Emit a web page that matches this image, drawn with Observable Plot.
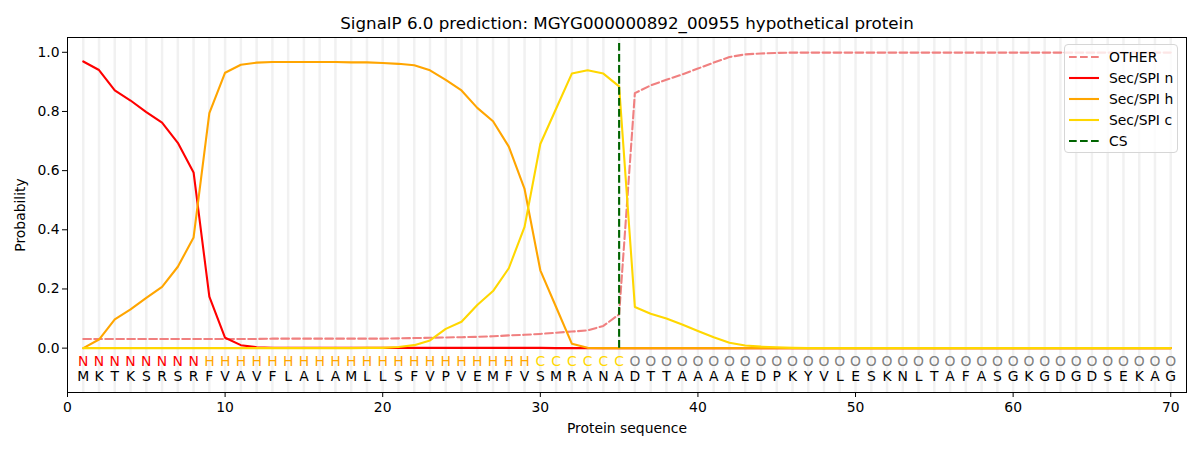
<!DOCTYPE html>
<html><head><meta charset="utf-8">
<script src="https://cdn.jsdelivr.net/npm/d3@7"></script>
<script src="https://cdn.jsdelivr.net/npm/@observablehq/plot@0.6"></script>
<style>
body{margin:0;background:#fff;font-family:"DejaVu Sans",sans-serif;}
#wrap{position:relative;width:1200px;height:450px;}
#legend{position:absolute;left:1064px;top:44px;width:114px;height:109px;box-sizing:border-box;border:1px solid #d6d6d6;border-radius:4px;background:rgba(255,255,255,0.8);font-size:13.9px;color:#000;}
#legend .row{position:absolute;left:4px;height:20px;display:flex;align-items:center;}
#legend .row span{margin-left:10px;white-space:nowrap;}
</style></head><body>
<div id="wrap"><div id="chart"></div><div id="legend"></div></div>
<script>
const title = "SignalP 6.0 prediction: MGYG000000892_00955 hypothetical protein";
const sequence = "MKTKSRSRFVAVFLALAMLLSFVPVEMFVSMRANADTTAAAAEDPKYVLESKNLTAFASGKGDGDSEKAG".split("");
const states = "NNNNNNNNHHHHHHHHHHHHHHHHHHHHHCCCCCCOOOOOOOOOOOOOOOOOOOOOOOOOOOOOOOOOOO".split("");
const positions = d3.range(1, sequence.length + 1);

const otherProb = [0.031,0.031,0.031,0.031,0.031,0.031,0.031,0.031,0.031,0.031,
  0.031,0.031,0.032,0.032,0.032,0.032,0.032,0.032,0.032,0.032,
  0.033,0.034,0.035,0.036,0.037,0.038,0.040,0.043,0.045,0.048,
  0.052,0.056,0.060,0.075,0.114,0.862,0.888,0.907,0.925,0.945,
  0.965,0.984,0.993,0.996,0.998,0.999,0.999,0.999,0.999,0.999,
  0.999,0.999,0.999,0.999,0.999,0.999,0.999,0.999,0.999,0.999,
  0.999,0.999,0.999,0.999,0.999,0.999,0.999,0.999,0.999,0.999];
const nProb = [0.969,0.940,0.871,0.837,0.798,0.762,0.694,0.594,0.174,0.035,
  0.010,0.003,0.001,0.001,0.001,0.001,0.001,0.001,0.001,0.001,
  0.001,0.001,0.001,0.001,0.001,0.001,0.001,0.001,0.001,0.001,
  0,0,0,0,0,0,0,0,0,0,
  0,0,0,0,0,0,0,0,0,0,
  0,0,0,0,0,0,0,0,0,0,
  0,0,0,0,0,0,0,0,0,0];
const hProb = [0.000,0.029,0.097,0.131,0.170,0.207,0.275,0.374,0.794,0.931,
  0.958,0.965,0.967,0.967,0.967,0.967,0.967,0.966,0.966,0.964,
  0.961,0.956,0.939,0.907,0.871,0.812,0.767,0.681,0.538,0.263,
  0.139,0.015,0.001,0,0,0,0,0,0,0,
  0,0,0,0,0,0,0,0,0,0,
  0,0,0,0,0,0,0,0,0,0,
  0,0,0,0,0,0,0,0,0,0];
const cProb = [0,0,0,0,0,0,0,0,0,0,
  0,0,0,0,0,0,0,0,0.001,0.001,
  0.004,0.010,0.026,0.065,0.089,0.146,0.193,0.270,0.410,0.690,
  0.809,0.928,0.939,0.928,0.885,0.139,0.116,0.100,0.080,0.058,
  0.037,0.018,0.009,0.005,0.003,0.001,0,0,0,0,
  0,0,0,0,0,0,0,0,0,0,
  0,0,0,0,0,0,0,0,0,0];
const csPosition = [35];
const csSpan = [0, 1.035];

const seriesNames = ["OTHER", "Sec/SPI n", "Sec/SPI h", "Sec/SPI c"];
const seriesValues = [otherProb, nProb, hProb, cProb];
const seriesColors = ["#f08080", "red", "orange", "gold"];
const seriesDash = ["7.7,3.3", null, null, null];
const stateColors = {N: "red", H: "orange", C: "gold", O: "gray"};

const font = "'DejaVu Sans', sans-serif";
const lineMarks = seriesNames.map((name, k) =>
  Plot.line(positions, {
    x: d => d, y: d => seriesValues[k][d - 1],
    stroke: seriesColors[k], strokeWidth: 2.1,
    strokeDasharray: seriesDash[k] || undefined
  })
);

const chart = Plot.plot({
  width: 1200, height: 450,
  marginLeft: 67, marginRight: 14, marginTop: 37, marginBottom: 58,
  style: {fontFamily: font, fontSize: "13.9px", background: "white", color: "black"},
  x: {domain: [0, 71]},
  y: {domain: [-0.15, 1.05]},
  marks: [
    Plot.ruleX(positions, {x: d => d, stroke: "#f1f1f1", strokeWidth: 2.5}),
    ...lineMarks,
    Plot.ruleX(csPosition, {x: d => d, y1: csSpan[0], y2: csSpan[1], stroke: "#006400", strokeWidth: 2.1, strokeDasharray: "7.7,3.3"}),
    Plot.text(positions, {x: d => d, text: d => states[d - 1], fill: d => stateColors[states[d - 1]], frameAnchor: "bottom", lineAnchor: "middle", dy: -31, fontSize: 13.9}),
    Plot.text(positions, {x: d => d, text: d => sequence[d - 1], fill: "black", frameAnchor: "bottom", lineAnchor: "middle", dy: -16, fontSize: 13.9}),
    Plot.frame({stroke: "black", strokeWidth: 1}),
    Plot.axisX({ticks: [0, 10, 20, 30, 40, 50, 60, 70], tickSize: 5, tickPadding: 5, tickFormat: d3.format("d"),
      label: "Protein sequence", labelAnchor: "center", labelArrow: "none", labelOffset: 40, fontSize: 13.9}),
    Plot.axisY({ticks: [0, 0.2, 0.4, 0.6, 0.8, 1.0], tickSize: 5, tickPadding: 3, tickFormat: d3.format(".1f"),
      label: "Probability", labelAnchor: "center", labelArrow: "none", labelOffset: 52, fontSize: 13.9}),
    Plot.text([title], {text: d => d, frameAnchor: "top", lineAnchor: "middle", dy: -14, fontSize: 16.7, fill: "black"})
  ]
});
document.getElementById("chart").appendChild(chart);

// legend
const legendItems = seriesNames.map((n, k) => ({name: n, color: seriesColors[k], dash: seriesDash[k]}))
  .concat([{name: "CS", color: "#006400", dash: "7.7,3.3"}]);
const legend = document.getElementById("legend");
legendItems.forEach((it, i) => {
  const row = document.createElement("div");
  row.className = "row";
  row.style.top = (2 + i * 21) + "px";
  row.innerHTML = `<svg width="30" height="6"><line x1="0" y1="3" x2="30" y2="3" stroke="${it.color}" stroke-width="2.1" ${it.dash ? `stroke-dasharray="${it.dash}"` : ""}/></svg><span>${it.name}</span>`;
  legend.appendChild(row);
});
</script>
</body></html>
